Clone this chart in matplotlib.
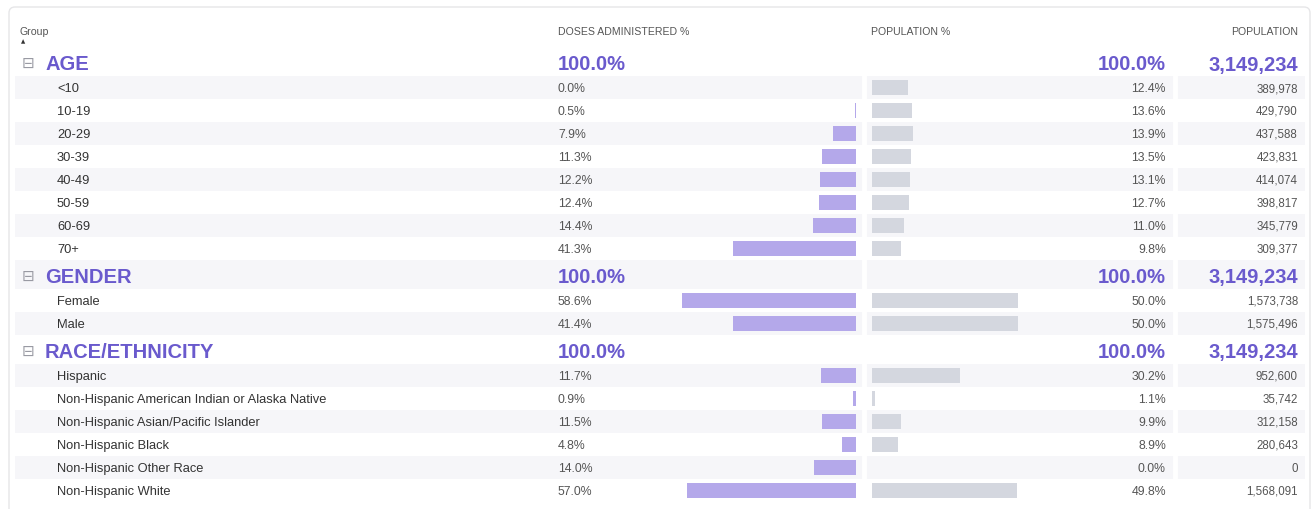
import matplotlib.pyplot as plt
from matplotlib.patches import Rectangle, FancyBboxPatch

# ---- data ----
groups = ["AGE", "GENDER", "RACE/ETHNICITY"]
group_total_pct = [100.0, 100.0, 100.0]
group_total_pop = [3149234, 3149234, 3149234]

age_labels = ["<10", "10-19", "20-29", "30-39", "40-49", "50-59", "60-69", "70+"]
age_doses = [0.0, 0.5, 7.9, 11.3, 12.2, 12.4, 14.4, 41.3]
age_pop_pct = [12.4, 13.6, 13.9, 13.5, 13.1, 12.7, 11.0, 9.8]
age_pop = [389978, 429790, 437588, 423831, 414074, 398817, 345779, 309377]

gender_labels = ["Female", "Male"]
gender_doses = [58.6, 41.4]
gender_pop_pct = [50.0, 50.0]
gender_pop = [1573738, 1575496]

race_labels = ["Hispanic", "Non-Hispanic American Indian or Alaska Native",
               "Non-Hispanic Asian/Pacific Islander", "Non-Hispanic Black",
               "Non-Hispanic Other Race", "Non-Hispanic White"]
race_doses = [11.7, 0.9, 11.5, 4.8, 14.0, 57.0]
race_pop_pct = [30.2, 1.1, 9.9, 8.9, 0.0, 49.8]
race_pop = [952600, 35742, 312158, 280643, 0, 1568091]

sections = [
    (age_labels, age_doses, age_pop_pct, age_pop),
    (gender_labels, gender_doses, gender_pop_pct, gender_pop),
    (race_labels, race_doses, race_pop_pct, race_pop),
]

# ---- style ----
W, H = 1313, 510
PURPLE = "#6a5acd"
BAR_D = "#b4a8ea"
BAR_P = "#d4d7df"
STRIPE = "#f6f6f9"
plt.rcParams["font.family"] = ["Liberation Sans", "DejaVu Sans"]

fig = plt.figure(figsize=(W / 100, H / 100), dpi=100)
ax = fig.add_axes([0, 0, 1, 1])
ax.set_xlim(0, W)
ax.set_ylim(H, 0)
ax.axis("off")

# outer panel
ax.add_patch(FancyBboxPatch((9, 8), W - 12, H, boxstyle="round,pad=0,rounding_size=6",
                            facecolor="white", edgecolor="#e6e6e8", lw=1))

# column headers
hy = 32
hdr = dict(fontsize=7.6, color="#555", va="center")
ax.text(20, hy, "Group", **hdr)
ax.text(20.5, 41.5, "\u25b2", fontsize=4, color="#333", va="center", family="DejaVu Sans")
ax.text(558, hy, "DOSES ADMINISTERED %", **hdr)
ax.text(871, hy, "POPULATION %", **hdr)
ax.text(1298, hy, "POPULATION", ha="right", **hdr)

# row layout
GROUP_H, ROW_H = 29, 23
START = 48
y = START
rows = []  # (kind, top, height)
for g, (labels, doses, ppct, pop) in zip(groups, sections):
    rows.append(("g", y, GROUP_H))
    y += GROUP_H
    for _ in labels:
        rows.append(("c", y, ROW_H))
        y += ROW_H

# stripes
for i, (kind, t, h) in enumerate(rows):
    if i % 2 == 1:
        ax.add_patch(Rectangle((15, t), 1290, h, facecolor=STRIPE, edgecolor="none"))
for gx in (864, 1175):
    ax.plot([gx, gx], [START, y], color="white", lw=3.5, solid_capstyle="butt")

# bar axes share the pixel y-scale
SD, SP = 2.97, 2.92
ax_d = fig.add_axes([(856 - 60 * SD) / W, 0, 60 * SD / W, 1])
ax_d.set_xlim(60, 0)
ax_p = fig.add_axes([872 / W, 0, 60 * SP / W, 1])
ax_p.set_xlim(0, 60)
for a in (ax_d, ax_p):
    a.set_ylim(H, 0)
    a.axis("off")
    a.patch.set_alpha(0)

big = dict(fontsize=14.5, fontweight="bold", color=PURPLE, va="center")
pct_style = dict(fontsize=8.8, color="#555", va="center")
num_style = dict(fontsize=8.3, color="#555", va="center")
ri = 0
for g, tp, tpop, (labels, doses, ppct, pop) in zip(groups, group_total_pct, group_total_pop, sections):
    _, t, h = rows[ri]
    ri += 1
    c = t + h / 2 + 2.5
    ax.text(28, c - 1.5, "\u229f", fontsize=11, color="#999aa3", va="center", ha="center",
            family="DejaVu Sans")
    ax.text(45, c, g, **big)
    ax.text(558, c, f"{tp:.1f}%", **big)
    ax.text(1166, c, f"{tp:.1f}%", ha="right", **big)
    ax.text(1298, c, f"{tpop:,}", ha="right", **big)

    centers = []
    for lab, d, pp, p in zip(labels, doses, ppct, pop):
        _, t, h = rows[ri]
        ri += 1
        c = t + h / 2
        centers.append(c)
        ax.text(57, c + 0.5, lab, fontsize=9.3, color="#333", va="center")
        ax.text(558, c + 0.5, f"{d:.1f}%", **pct_style)
        ax.text(1166, c + 0.5, f"{pp:.1f}%", ha="right", **pct_style)
        ax.text(1298, c + 0.5, f"{p:,}", ha="right", **num_style)
    ax_d.barh(centers, doses, height=15, color=BAR_D)
    ax_p.barh(centers, ppct, height=15, color=BAR_P)

fig.savefig("out.png", dpi=100)
